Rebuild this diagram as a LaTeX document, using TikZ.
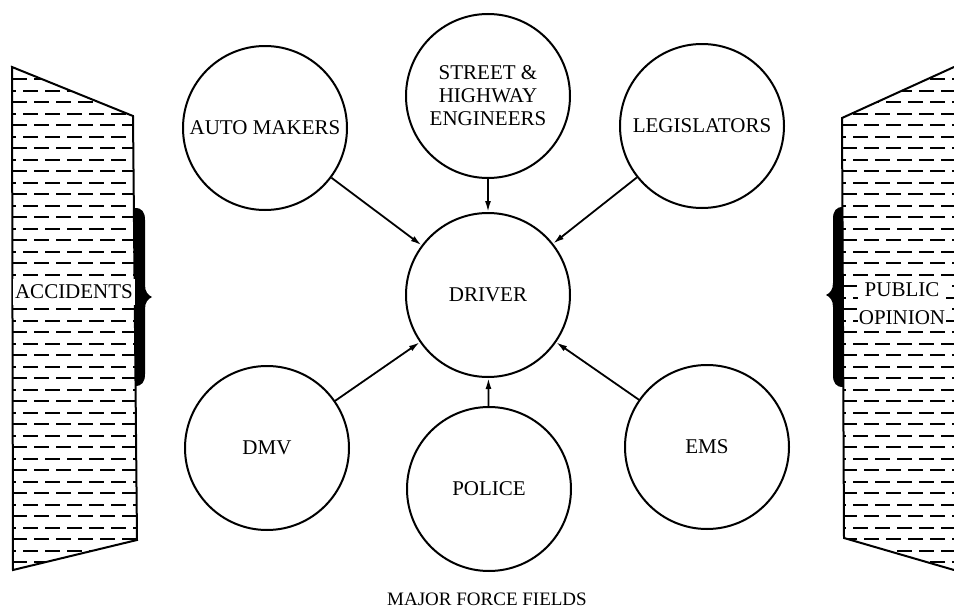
\documentclass[tikz,border=0pt]{standalone}
\usepackage{fontspec}
\setmainfont{Liberation Serif}
\usetikzlibrary{arrows.meta}

\begin{document}
\begin{tikzpicture}[
    x=1pt, y=-1pt,
    every node/.style={
        font=\fontsize{21}{24}\selectfont,
    },
    field/.style={circle, draw, line width=2pt, minimum size=164pt, inner sep=0pt, align=center},
    arr/.style={-{Latex[length=11pt,width=6pt]}, line width=1.8pt},
    hatch/.style={line width=2pt, dash pattern=on 15pt off 7pt},
    panel/.style={line width=2pt},
]
    \useasboundingbox (0,0) rectangle (954,613);

    % left panel
    \begin{scope}
        \clip (12,67) -- (133,116) -- (137,540) -- (13,570) -- cycle;
        \foreach \y in {79,102,...,575} {
            \draw[hatch] (12,\y) -- (140,\y);
        }
        \foreach \y in {90.5,113.5,...,575} {
            \draw[hatch, dash phase=11pt] (12,\y) -- (140,\y);
        }
    \end{scope}
    \draw[panel] (12,67) -- (133,116) -- (137,540) -- (13,570) -- cycle;
    \node[fill=white, inner xsep=2pt, inner ysep=6pt] (acc) at (74,292) {ACCIDENTS};
    \fill (135,208) .. controls (142,208) and (145,212) .. (145,220) -- (145,285)
        .. controls (145,292) and (148,295) .. (152,297)
        .. controls (148,299) and (145,302) .. (145,309) -- (145,374)
        .. controls (145,382) and (142,386) .. (135,386) -- cycle;

    % right panel
    \begin{scope}
        \clip (954,67) -- (842,118) -- (844,538) -- (954,570) -- cycle;
        \foreach \y in {79,102,...,575} {
            \draw[hatch] (842,\y) -- (960,\y);
        }
        \foreach \y in {90.5,113.5,...,575} {
            \draw[hatch, dash phase=11pt] (842,\y) -- (960,\y);
        }
    \end{scope}
    \draw[panel] (954,67) -- (842,118) -- (844,538) -- (954,570);
    \node[fill=white, inner sep=1pt, align=center, font=\fontsize{21}{28}\selectfont] (pub) at (902,304) {PUBLIC\\OPINION};
    \fill (843,207) .. controls (836,207) and (833,211) .. (833,219) -- (833,283)
        .. controls (833,290) and (830,293) .. (826,295)
        .. controls (830,297) and (833,300) .. (833,307) -- (833,375)
        .. controls (833,383) and (836,387) .. (843,387) -- cycle;

    % force fields
    \node[field] (driver) at (488,295) {DRIVER};
    \node[field] (auto) at (265,128) {AUTO MAKERS};
    \node[field, font=\fontsize{21}{23}\selectfont] (street) at (488,96) {STREET \&\\HIGHWAY\\ENGINEERS};
    \node[field] (legis) at (702,126) {LEGISLATORS};
    \node[field] (dmv) at (267,448) {DMV};
    \node[field] (police) at (489,489) {POLICE};
    \node[field] (ems) at (707,447) {EMS};

    \foreach \src in {auto,street,legis,dmv,police,ems} {
        \draw[arr] (\src) -- (driver);
    }

    \node[font=\fontsize{19}{22}\selectfont] (title) at (487,599) {MAJOR FORCE FIELDS};
\end{tikzpicture}
\end{document}
